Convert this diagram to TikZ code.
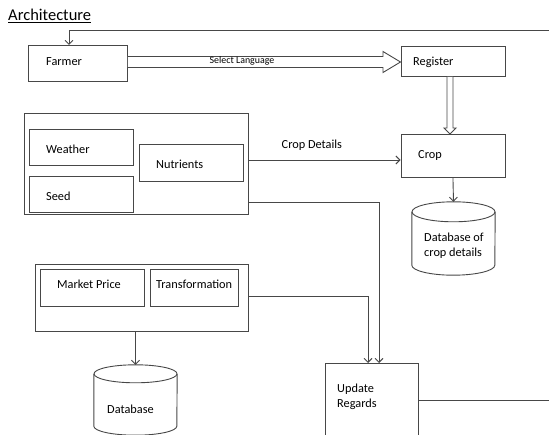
\documentclass[tikz,border=0pt]{standalone}
\usepackage{fontspec}
\setmainfont{Carlito}
\usetikzlibrary{arrows.meta,calc}
\begin{document}
\begin{tikzpicture}[x=1pt,y=-1pt,
  line/.style={draw=black!72, line width=0.9pt},
  box/.style={line, rectangle, inner sep=0pt, anchor=north west},
  lbl/.style={anchor=base west, inner sep=0pt, font=\fontsize{12.3}{14.7}\selectfont},
  tip/.style={-{Straight Barb[length=4pt,width=8pt]}},
]
\useasboundingbox (0,0) rectangle (549,435);
\fill[white] (0,0) rectangle (549,435);
\clip (0,0) rectangle (549,435);

% title
\node[anchor=base west, inner sep=0pt, font=\fontsize{16.5}{19}\selectfont] (title) at (8,21) {\underline{Architecture}};

% boxes
\node[box, minimum width=99pt,  minimum height=36pt]  (farmer)   at (28,45)   {};
\node[box, minimum width=104pt, minimum height=30pt]  (register) at (400.5,46) {};
\node[box, minimum width=104pt, minimum height=43pt]  (crop)     at (400.5,134) {};

\node[box, minimum width=224pt, minimum height=101pt] (g1)       at (23.5,113) {};
\node[box, minimum width=104pt, minimum height=36pt]  (weather)  at (28.5,129) {};
\node[box, minimum width=104pt, minimum height=36pt]  (seed)     at (28.5,176.5) {};
\node[box, minimum width=104pt, minimum height=37pt]  (nutri)    at (138.5,144.5) {};

\node[box, minimum width=213pt, minimum height=67pt]  (g2)       at (34.5,264.5) {};
\node[box, minimum width=104pt, minimum height=37pt]  (market)   at (40,269.5) {};
\node[box, minimum width=88pt,  minimum height=37pt]  (trans)    at (149.5,269.5) {};

\node[box, minimum width=93pt,  minimum height=90pt]  (update)   at (324.5,363) {};

% labels
\node[lbl] (tfarmer)   at (46,66)    {Farmer};
\node[lbl] (tregister) at (413,66)   {Register};
\node[lbl] (tcrop)     at (418,159)  {Crop};
\node[lbl] (tweather)  at (46,154)   {Weather};
\node[lbl] (tseed)     at (46,201)   {Seed};
\node[lbl] (tnutri)    at (156,169)  {Nutrients};
\node[lbl] (tmarket)   at (57,289)   {Market Price};
\node[lbl] (ttrans)    at (156,289)  {Transformation};
\node[lbl] (tupdate)   at (337,393)  {Update};
\node[lbl] (tregards)  at (337,408)  {Regards};
\node[lbl] (tcropdet)  at (281.5,149) {Crop Details};

% cylinders
\node[minimum width=83pt, minimum height=73pt, inner sep=0pt] (cropdb) at (453.5,238.5) {};
\draw[line] ($(cropdb.north)+(0,10)$) ellipse [x radius=41.5pt, y radius=10pt];
\draw[line] ($(cropdb.north west)+(0,10)$) -- ($(cropdb.south west)+(0,-10)$)
  arc[start angle=180, end angle=360, x radius=41.5pt, y radius=10pt]
  -- ($(cropdb.north east)+(0,10)$);
\node[lbl] (tcdb1) at (424,242) {Database of};
\node[lbl] (tcdb2) at (424,257) {crop details};

\node[minimum width=83pt, minimum height=70pt, inner sep=0pt] (db) at (135.5,400) {};
\draw[line] ($(db.north)+(0,9)$) ellipse [x radius=41.5pt, y radius=9pt];
\draw[line] ($(db.north west)+(0,9)$) -- ($(db.south west)+(0,-9)$)
  arc[start angle=180, end angle=360, x radius=41.5pt, y radius=9pt]
  -- ($(db.north east)+(0,9)$);
\node[lbl] (tdb) at (107,414) {Database};

% hollow block arrow Farmer -> Register
\draw[line, fill=white] (farmer.east |- 0,56.5) -- (383,56.5) -- (383,51.5)
  -- (register.west |- 0,62) -- (383,72.5) -- (383,67.5) -- (farmer.east |- 0,67.5);
\node[anchor=base, inner sep=0pt, font=\fontsize{9.9}{11}\selectfont] (tsel) at (242,64) {Select Language};

% hollow arrow Register -> Crop
\draw[line, fill=white] (447,0 |- register.south) -- (447,128) -- (444,128)
  -- (450,0 |- crop.north) -- (456,128) -- (453,128) -- (453,0 |- register.south);

% connectors
\draw[line, tip] (549,30.5) -| (69,0 |- farmer.north);
\draw[line, tip] (g1.east |- 0,160) -- (crop.west |- 0,160);
\draw[line, tip] (crop.south) -- (cropdb.north);
\draw[line, tip] (g1.east |- 0,202.5) -| (379,0 |- update.north);
\draw[line, tip] (g2.east |- 0,296.5) -| (368,0 |- update.north);
\draw[line, tip] (135.5,0 |- g2.south) -- (db.north);
\draw[line] (update.east |- 0,400) -- (549,400);
\end{tikzpicture}
\end{document}
